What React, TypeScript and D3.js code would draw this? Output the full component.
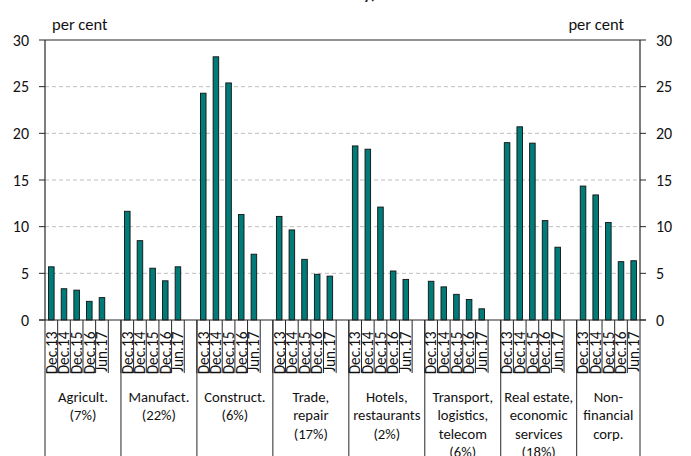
import React from "react";
import * as d3 from "d3";

const dates = ["Dec.13", "Dec.14", "Dec.15", "Dec.16", "Jun.17"];

const sectorLabels: string[][] = [
  ["Agricult.", "(7%)"],
  ["Manufact.", "(22%)"],
  ["Construct.", "(6%)"],
  ["Trade,", "repair", "(17%)"],
  ["Hotels,", "restaurants", "(2%)"],
  ["Transport,", "logistics,", "telecom", "(6%)"],
  ["Real estate,", "economic", "services", "(18%)"],
  ["Non-", "financial", "corp."],
];

const agriculture = [5.7, 3.35, 3.2, 2.0, 2.4];
const manufacturing = [11.65, 8.5, 5.55, 4.2, 5.7];
const construction = [24.3, 28.2, 25.4, 11.3, 7.05];
const trade = [11.1, 9.65, 6.5, 4.9, 4.7];
const hotels = [18.65, 18.3, 12.1, 5.25, 4.35];
const transport = [4.15, 3.55, 2.75, 2.2, 1.2];
const realEstate = [19.0, 20.7, 18.95, 10.65, 7.8];
const nonFinancial = [14.35, 13.4, 10.45, 6.25, 6.35];

const seriesValues = [
  agriculture,
  manufacturing,
  construction,
  trade,
  hotels,
  transport,
  realEstate,
  nonFinancial,
];

const yTicks = [0, 5, 10, 15, 20, 25, 30];

const W = 691;
const H = 456;
const FONT = "Carlito, Calibri, Lato, 'Open Sans', sans-serif";

export default function App() {
  const left = 45;
  const right = 640;
  const top = 40;
  const bottom = 320;

  type Slot = { id: string; g: number; d: number; v: number | null };
  const slots: Slot[] = [];
  seriesValues.forEach((vals, g) => {
    vals.forEach((v, d) => slots.push({ id: `${g}-${d}`, g, d, v }));
    if (g < seriesValues.length - 1) slots.push({ id: `${g}-gap`, g, d: -1, v: null });
  });

  const x = d3
    .scaleBand<string>()
    .domain(slots.map((s) => s.id))
    .range([left, right])
    .paddingInner(0)
    .paddingOuter(0);
  const bw = x.bandwidth();
  const y = d3.scaleLinear().domain([0, 30]).range([bottom, top]);

  const groupStart = (g: number) => x(`${g}-0`) as number;
  const groupEnd = (g: number) =>
    g < seriesValues.length - 1 ? groupStart(g + 1) : right;

  const barW = bw * 0.44;

  return (
    <svg
      width={W}
      height={H}
      style={{ position: "absolute", left: 0, top: 0, background: "#fff" }}
      fontFamily={FONT}
    >
      {/* partially visible title */}
      <text x={376} y={-1} textAnchor="end" fontSize={16} fontWeight="bold" fill="#222">
        economy)
      </text>

      {/* gridlines */}
      {yTicks
        .filter((t) => t > 0 && t < 30)
        .map((t) => (
          <line
            key={`g${t}`}
            x1={left}
            x2={right}
            y1={y(t)}
            y2={y(t)}
            stroke="#BFBFBF"
            strokeWidth={1}
            strokeDasharray="4,3"
          />
        ))}
      <line x1={left} x2={right} y1={y(30)} y2={y(30)} stroke="#262626" strokeWidth={1.2} />

      {/* bars */}
      {slots
        .filter((s) => s.v !== null)
        .map((s) => {
          const cx = (x(s.id) as number) + bw / 2;
          return (
            <rect
              key={s.id}
              x={cx - barW / 2}
              y={y(s.v as number)}
              width={barW}
              height={bottom - y(s.v as number)}
              fill="#007B78"
              stroke="#111"
              strokeWidth={0.9}
            />
          );
        })}

      {/* y axes */}
      <line x1={left} x2={left} y1={top} y2={bottom} stroke="#262626" strokeWidth={1.2} />
      <line x1={right} x2={right} y1={top} y2={bottom} stroke="#262626" strokeWidth={1.2} />
      {yTicks.map((t) => (
        <g key={`t${t}`}>
          <line x1={left - 6} x2={left} y1={y(t)} y2={y(t)} stroke="#262626" strokeWidth={1} />
          <line x1={right} x2={right + 6} y1={y(t)} y2={y(t)} stroke="#262626" strokeWidth={1} />
          <text x={29} y={y(t) + 5.5} textAnchor="end" fontSize={16} fill="#111">
            {t}
          </text>
          <text x={656} y={y(t) + 5.5} textAnchor="start" fontSize={16} fill="#111">
            {t}
          </text>
        </g>
      ))}

      <text x={52} y={30} fontSize={16.5} fill="#111">
        per cent
      </text>
      <text x={624} y={30} textAnchor="end" fontSize={16.5} fill="#111">
        per cent
      </text>

      {/* x axis */}
      <line x1={left - 6} x2={right + 6} y1={bottom} y2={bottom} stroke="#262626" strokeWidth={1.2} />

      {/* slot separators (short) */}
      {slots.map((s, i) =>
        i === 0 ? null : (
          <line
            key={`s${s.id}`}
            x1={x(s.id) as number}
            x2={x(s.id) as number}
            y1={bottom}
            y2={373}
            stroke="#262626"
            strokeWidth={1}
          />
        )
      )}

      {/* group separators (long) */}
      {seriesValues.map((_, g) => (
        <line
          key={`gs${g}`}
          x1={groupStart(g)}
          x2={groupStart(g)}
          y1={bottom}
          y2={H}
          stroke="#262626"
          strokeWidth={1}
        />
      ))}
      <line x1={right} x2={right} y1={bottom} y2={H} stroke="#262626" strokeWidth={1} />

      {/* date labels */}
      {slots
        .filter((s) => s.v !== null)
        .map((s) => {
          const cx = (x(s.id) as number) + bw / 2 + 5.3;
          return (
            <text
              key={`d${s.id}`}
              transform={`translate(${cx},${331.5}) rotate(-90)`}
              textAnchor="end"
              fontSize={15.3}
              fill="#111"
            >
              {dates[s.d]}
            </text>
          );
        })}

      {/* group labels */}
      {sectorLabels.map((lines, g) => {
        const cx = (groupStart(g) + groupEnd(g)) / 2;
        return (
          <text key={`gl${g}`} textAnchor="middle" fontSize={14.67} fill="#111">
            {lines.map((ln, i) => (
              <tspan key={i} x={cx} y={402 + i * 18.3}>
                {ln}
              </tspan>
            ))}
          </text>
        );
      })}
    </svg>
  );
}
